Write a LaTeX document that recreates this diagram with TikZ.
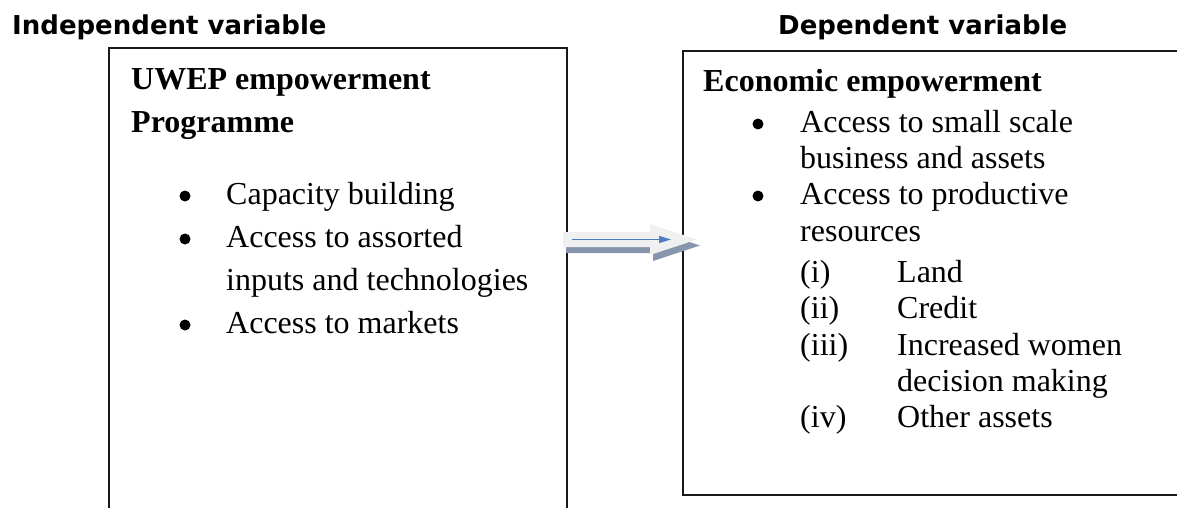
\documentclass[tikz,border=0pt]{standalone}
\usepackage{fontspec}
\setmainfont{Liberation Serif}
\newfontfamily\headfont{DejaVu Sans}
\usetikzlibrary{arrows.meta, positioning}

\definecolor{arrowlight}{RGB}{240,240,240}
\definecolor{arrowshade}{RGB}{135,150,172}
\definecolor{arrowblue}{RGB}{74,126,193}

\begin{document}
\begin{tikzpicture}[x=1pt, y=-1pt,
    headtxt/.style={anchor=base west, inner sep=0pt, font=\headfont\bfseries\fontsize{26}{30}\selectfont},
    itemtxt/.style={anchor=base west, inner sep=0pt, font=\fontsize{32}{38}\selectfont},
    titletxt/.style={anchor=base west, inner sep=0pt, font=\bfseries\fontsize{32}{38}\selectfont},
    dot/.style={circle, fill=black, inner sep=0pt, minimum size=11pt},
    boxline/.style={line width=1.6pt, black!90}]
    \clip (0,0) rectangle (1177,508);

    % Headings
    \node[headtxt] (indep) at (12,35) {Independent variable};
    \node[headtxt] (dep) at (778,35) {Dependent variable};

    % Boxes (the left one runs on past the page, the right one past the edge)
    \draw[boxline] (109,530) -- (109,48) -- (567,48) -- (567,530);
    \draw[boxline] (1200,51) -- (683,51) -- (683,495) -- (1200,495);

    % Left box: programme
    \node[titletxt] (uwep) at (131,90) {UWEP empowerment};
    \node[titletxt] (prog) at (131,132) {Programme};
    \foreach \y/\txt [count=\i] in {204/Capacity building, 247/Access to assorted, 333/Access to markets} {
        \node[dot] (ldot\i) at (185,\y-8) {};
        \node[itemtxt] (litem\i) at (226,\y) {\txt};
    }
    \node[itemtxt] (litem2b) at (226,290) {inputs and technologies};

    % Right box: economic empowerment
    \node[titletxt] (econ) at (703,92) {Economic empowerment};
    \node[dot] (rdot1) at (758,124) {};
    \node[itemtxt] (ritem1) at (800,132) {Access to small scale};
    \node[itemtxt] (ritem1b) at (800,168) {business and assets};
    \node[dot] (rdot2) at (758,196) {};
    \node[itemtxt] (ritem2) at (800,204) {Access to productive};
    \node[itemtxt] (ritem2b) at (800,241) {resources};
    \foreach \y/\num/\txt [count=\i] in {282/(i)/Land, 318/(ii)/Credit, 355/(iii)/Increased women, 427/(iv)/Other assets} {
        \node[itemtxt] (num\i) at (800,\y) {\num};
        \node[itemtxt] (sub\i) at (897,\y) {\txt};
    }
    \node[itemtxt] (sub3b) at (897,391) {decision making};

    % Block arrow with shadow
    \fill[arrowshade] (566,238) -- (653,238) -- (653,230) -- (700,245.5) -- (653,261) -- (653,253) -- (566,253) -- cycle;
    \fill[arrowlight] (563,232) -- (650,232) -- (650,224) -- (697,239.5) -- (650,255) -- (650,247) -- (563,247) -- cycle;
    \coordinate (from) at (572,239.5);
    \coordinate (to) at (671,239.5);
    \draw[arrowblue, line width=1.3pt, -{Triangle[length=12pt, width=7pt]}] (from) -- (to);
\end{tikzpicture}
\end{document}
